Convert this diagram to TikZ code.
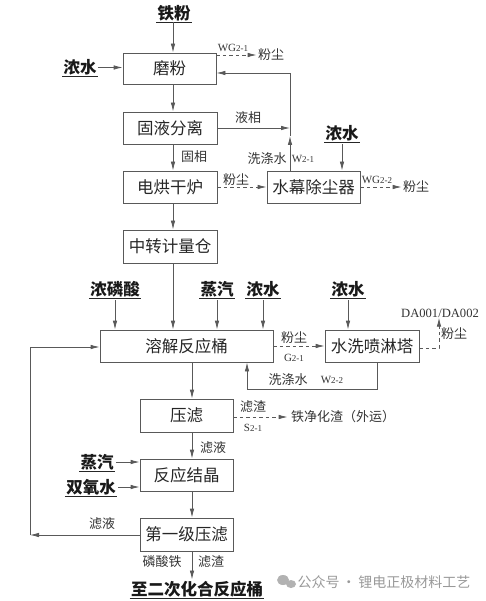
\documentclass[tikz,border=0pt]{standalone}
\usepackage{fontspec}
\setmainfont{Liberation Serif}
\newfontfamily\cjk{Noto Sans CJK SC}
\usetikzlibrary{arrows.meta,calc}
\begin{document}
\begin{tikzpicture}[x=1pt,y=-1pt,
  line width=0.8pt,
  box/.style={draw=black!65, line width=0.8pt, inner sep=0pt, text=black!85,
    font=\cjk\fontsize{16.5}{18}\selectfont},
  arr/.style={draw=black!65, line width=0.8pt, -{Latex[length=9pt,width=4.5pt]}},
  dsh/.style={draw=black!65, line width=0.8pt, dash pattern=on 3.5pt off 3pt},
  dsharr/.style={dsh, -{Latex[length=9pt,width=4.5pt]}},
  lab/.style={font=\cjk\fontsize{13}{13}\selectfont, text=black!80, inner sep=0pt},
  lat/.style={font=\fontsize{11}{11}\selectfont, text=black!80, inner sep=0pt},
  inl/.style={font=\cjk\bfseries\fontsize{16.5}{17}\selectfont, text=black!90, inner sep=1pt},
  ul/.style={draw=black!85, line width=1.2pt},
  wm/.style={font=\cjk\fontsize{14}{14}\selectfont, text=black!40, inner sep=0pt}
]
\useasboundingbox (0,0) rectangle (486,601);

% column reference coordinates
\coordinate (xa) at (173,0);
\coordinate (xb) at (192,0);

% boxes
\node[box, minimum width=93pt, minimum height=31pt] (b1) at (169.5,68.5) {磨粉};
\node[box, minimum width=94pt, minimum height=32pt] (b2) at (170,128) {固液分离};
\node[box, minimum width=94pt, minimum height=32pt] (b3) at (170,187) {电烘干炉};
\node[box, minimum width=94pt, minimum height=33pt] (b4) at (170,246.5) {中转计量仓};
\node[box, minimum width=93pt, minimum height=32pt] (b5) at (313.5,187) {水幕除尘器};
\node[box, minimum width=173pt, minimum height=32pt] (b6) at (186.5,346) {溶解反应桶};
\node[box, minimum width=94pt, minimum height=32pt] (b7) at (372,346) {水洗喷淋塔};
\node[box, minimum width=93pt, minimum height=33pt] (b8) at (186.5,415.5) {压滤};
\node[box, minimum width=93pt, minimum height=32pt] (b9) at (186.5,475) {反应结晶};
\node[box, minimum width=93pt, minimum height=33pt] (b10) at (186.5,534.5) {第一级压滤};

% input labels (bold, underlined)
\node[inl] (i1) at (174,13) {铁粉};
\node[inl] (i2) at (80,67.5) {浓水};
\node[inl] (i3) at (342,133) {浓水};
\node[inl] (i4) at (115,289) {浓磷酸};
\node[inl] (i5) at (217,289) {蒸汽};
\node[inl] (i6) at (263,289) {浓水};
\node[inl] (i7) at (348,289) {浓水};
\node[inl] (i8) at (97,462) {蒸汽};
\node[inl] (i9) at (91,487) {双氧水};
\node[inl] (o1) at (197,589) {至二次化合反应桶};
\foreach \n in {i1,i2,i3,i4,i5,i6,i7,i8,i9,o1}
  \draw[ul] (\n.south west) -- (\n.south east);

% small labels
\node[lat] (wg1) at (233,48) {WG{\small 2-1}};
\node[lab] (f1) at (271,55) {粉尘};
\node[lab] (lx) at (248,118) {液相};
\node[lab] (gx) at (194,157) {固相};
\node[lab] (xd1) at (267,159) {洗涤水};
\node[lat] (w21) at (303,159) {W{\small 2-1}};
\node[lab] (f2) at (236,180) {粉尘};
\node[lat] (wg2) at (377,180) {WG{\small 2-2}};
\node[lab] (f3) at (416,187) {粉尘};
\node[lab] (f4) at (294,338) {粉尘};
\node[lat] (g21) at (294,358) {G{\small 2-1}};
\node[lat, font=\fontsize{12.6}{12.6}\selectfont] (dl) at (440,313) {DA001/DA002};
\node[lab] (f5) at (454,334) {粉尘};
\node[lab] (xd2) at (288,380) {洗涤水};
\node[lat] (w22) at (332,380) {W{\small 2-2}};
\node[lab] (zz1) at (253,407) {滤渣};
\node[lat] (s21) at (253,428) {S{\small 2-1}};
\node[lab] (t1) at (343,417) {铁净化渣（外运）};
\node[lab] (ly1) at (213,448) {滤液};
\node[lab] (ly2) at (102,524) {滤液};
\node[lab] (lst) at (162,562) {磷酸铁};
\node[lab] (zz2) at (211,562) {滤渣};

% main column arrows
\draw[arr] (i1.south -| xa) -- (b1.north -| xa);
\draw[arr] (b1.south -| xa) -- (b2.north -| xa);
\draw[arr] (b2.south -| xa) -- (b3.north -| xa);
\draw[arr] (b3.south -| xa) -- (b4.north -| xa);
\draw[arr] (b4.south -| xa) -- (b6.north -| xa);
\draw[arr] (b6.south -| xb) -- (b8.north -| xb);
\draw[arr] (b8.south -| xb) -- (b9.north -| xb);
\draw[arr] (b9.south -| xb) -- (b10.north -| xb);
\draw[arr] (b10.south -| xb) -- (o1.north -| xb);

% inputs
\draw[arr] (i2.east) -- (i2.east -| b1.west);
\draw[arr] ([yshift=-2pt]i3.south) -- (i3.south |- b5.north);
\draw[arr] ([yshift=-2pt]i4.south) -- (i4.south |- b6.north);
\draw[arr] ([yshift=-2pt]i5.south) -- (i5.south |- b6.north);
\draw[arr] ([yshift=-2pt]i6.south) -- (i6.south |- b6.north);
\draw[arr] ([yshift=-2pt]i7.south) -- (i7.south |- b7.north);
\draw[arr] ([xshift=1pt]i8.east) -- (i8.east -| b9.west);
\draw[arr] ([xshift=1pt]i9.east) -- (i9.east -| b9.west);

% grinding dust
\draw[dsharr] (b1.east |- f1) -- ([xshift=-1pt]f1.west);

% return W2-1 and liquid phase
\coordinate (j1) at (290,73);
\coordinate (j2) at (290,136);
\draw[arr] (b5.north -| j1) -- (j2);
\draw[arr] (j2) -- (j1) -- (b1.east |- j1);
\draw[arr] (b2.east) -- (b2.east -| j1);

% dryer dust
\draw[dsharr] (b3.east) -- (b5.west);
\draw[dsharr] (b5.east) -- ([xshift=-1pt]b5.east -| f3.west);

% reactor dust to scrubber
\draw[dsharr] (b6.east) -- (b7.west);
\coordinate (da) at (439,348);
\draw[dsharr] (b7.east |- da) -- (da) -- (dl.south -| da);

% W2-2 return
\coordinate (r1) at (377,389);
\coordinate (r2) at (247,389);
\draw[arr] (b7.south -| r1) -- (r1) -- (r2) -- (b6.south -| r2);

% filter residue
\draw[dsharr] (b8.east |- t1) -- ([xshift=-3pt]t1.west);

% left loop
\coordinate (L1) at (30,535);
\coordinate (L2) at (30,347);
\draw[arr] (b10.west |- L1) -- (L1);
\draw[arr] (L1) -- (L2) -- (b6.west |- L2);

% watermark
\fill[black!30] (283,580) ellipse (6pt and 5pt);
\fill[black!30] (291,584) ellipse (5pt and 4pt);
\node[wm] (wmt) at (384,582) {公众号\,·\,锂电正极材料工艺};
\end{tikzpicture}
\end{document}
